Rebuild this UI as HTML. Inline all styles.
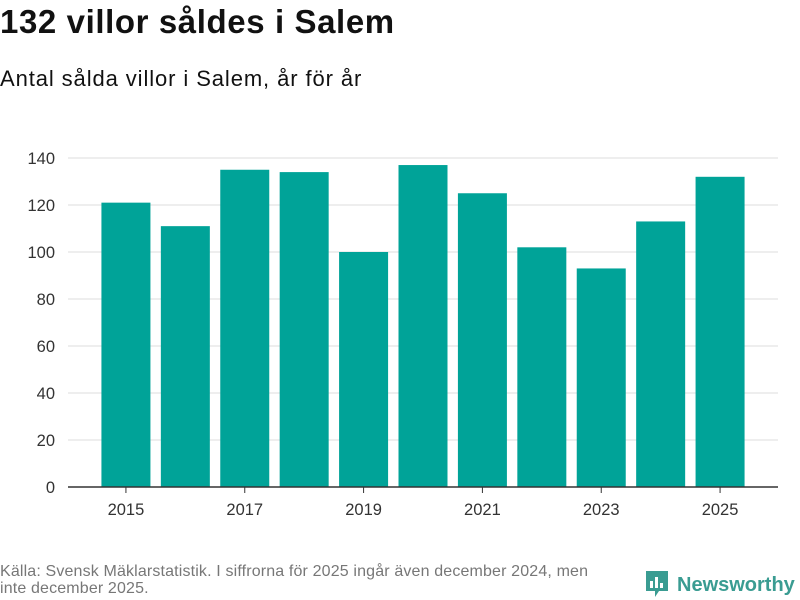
<!DOCTYPE html>
<html><head><meta charset="utf-8"><style>
body{margin:0;width:800px;height:600px;background:#fff;font-family:"Liberation Sans","DejaVu Sans",sans-serif;overflow:hidden;position:relative}
#title{position:absolute;left:0;top:3px;font-size:33px;font-weight:bold;color:#111;margin:0;letter-spacing:0.6px}
#sub{position:absolute;left:0;top:66px;font-size:22px;color:#111;letter-spacing:0.9px}
#foot{position:absolute;left:0;top:563px;font-size:16px;color:#777;line-height:17px;width:650px;letter-spacing:0.15px;white-space:nowrap}
#logo{position:absolute;left:645px;top:570px;display:flex;align-items:center;color:#3a9c92;font-weight:bold;font-size:20px}
svg text{font-family:"Liberation Sans","DejaVu Sans",sans-serif}
</style></head><body>
<h1 id="title">132 villor såldes i Salem</h1>
<div id="sub">Antal sålda villor i Salem, år för år</div>
<svg id="chart" width="800" height="600" style="position:absolute;left:0;top:0"></svg>
<div id="foot">Källa: Svensk Mäklarstatistik. I siffrorna för 2025 ingår även december 2024, men<br>inte december 2025.</div>
<div id="logo"><svg width="24" height="30" viewBox="0 0 24 30"><path d="M1 1h22v20H14l-4 6v-6H1z" fill="#3a9c92"/><rect x="5" y="11" width="3" height="7" fill="#fff"/><rect x="10" y="7" width="3" height="11" fill="#fff"/><rect x="15" y="13" width="3" height="5" fill="#fff"/></svg><span style="margin-left:8px">Newsworthy</span></div>
<script>
const years=[2015,2016,2017,2018,2019,2020,2021,2022,2023,2024,2025];
const values=[121,111,135,134,100,137,125,102,93,113,132];
const yTicks=[0,20,40,60,80,100,120,140];
const xTickLabels=[2015,2017,2019,2021,2023,2025];
const NS="http://www.w3.org/2000/svg";
const svg=document.getElementById('chart');
const x0=68,x1=778,y0=487,yTop=158,yMax=140;
const y=v=>y0-(y0-yTop)*v/yMax;
const step=(x1-x0)/(years.length+0.95);
const x=yr=>x0+step*0.975+(yr-years[0])*step;
const bw=49;
function mk(t,a){const e=document.createElementNS(NS,t);for(const k in a)e.setAttribute(k,a[k]);svg.appendChild(e);return e;}
yTicks.forEach(t=>{
 if(t>0){const g=mk('line',{x1:x0,x2:x1,y1:y(t),y2:y(t),stroke:'#ddd','stroke-width':1});
 
 }
 const l=mk('text',{x:55,y:y(t)+6,'text-anchor':'end','font-size':16.5,fill:'#333'});
 
 
 l.textContent=t;
});
years.forEach((yr,i)=>{
 const r=mk('rect',{x:x(yr)-bw/2,y:y(values[i]),width:bw,height:y0-y(values[i]),fill:'#00a398'});
 
 
});
const ax=mk('line',{x1:x0,x2:x1,y1:y0,y2:y0,stroke:'#333','stroke-width':1.5});


xTickLabels.forEach(yr=>{
 const tk=mk('line',{x1:x(yr),x2:x(yr),y1:y0,y2:y0+6,stroke:'#333'});
 
 
 const l=mk('text',{x:x(yr),y:y0+28,'text-anchor':'middle','font-size':16.5,fill:'#333'});
 
 
 l.textContent=yr;
});
</script>
</body></html>
